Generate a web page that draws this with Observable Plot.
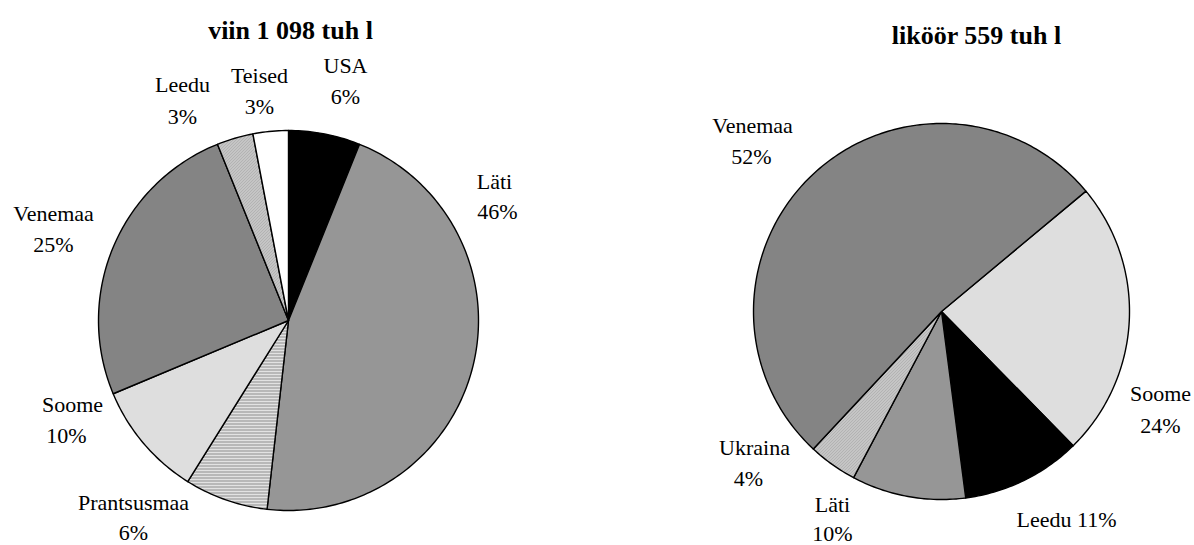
<!DOCTYPE html>
<html>
<head>
<meta charset="utf-8">
<script src="https://cdn.jsdelivr.net/npm/d3@7"></script>
<script src="https://cdn.jsdelivr.net/npm/@observablehq/plot@0.6"></script>
<style>
  html, body { margin: 0; padding: 0; background: white; }
  #chart svg text, #chart svg tspan { font-family: "Liberation Serif", "DejaVu Serif", "Noto Serif", serif !important; }
</style>
</head>
<body>
<div id="chart"></div>
<script>
// ---- data ----
const viinTitle = "viin 1 098 tuh l";
const viinCountries = ["USA", "Läti", "Prantsusmaa", "Soome", "Venemaa", "Leedu", "Teised"];
const viinShares = [6.1, 45.7, 7.1, 9.8, 25.2, 3.1, 3.0];
const viinLabels = ["6%", "46%", "6%", "10%", "25%", "3%", "3%"];

const likoorTitle = "liköör 559 tuh l";
const likoorCountries = ["Soome", "Leedu", "Läti", "Ukraina", "Venemaa"];
const likoorShares = [23.7, 10.3, 9.8, 4.2, 52.0];
const likoorLabels = ["24%", "11%", "10%", "4%", "52%"];

// ---- layout / style ----
const pieLeft = {cx: 288, cy: 320, r: 190, start: 0};
const pieRight = {cx: 941, cy: 311, r: 188, start: 50.2};
const viinFills = ["black", "#969696", "url(#pLines)", "url(#pDots)", "url(#pDark)", "url(#pDiag)", "white"];
const likoorFills = ["url(#pDotsFine)", "black", "#969696", "url(#pDiag)", "url(#pDark)"];
// [nameX, nameY, pctX, pctY] (pctX null => same line)
const viinLabelPos = [
  [345, 72, 345, 103],
  [494, 188, 497, 218],
  [133, 509, 133, 539],
  [72, 411, 66, 442],
  [53, 220, 53, 251],
  [182, 91, 182, 123],
  [259, 82, 259, 113]
];
const likoorLabelPos = [
  [1160, 400, 1160, 432],
  [1066, 526, null, null],
  [832, 511, 832, 540],
  [754, 454, 748, 485],
  [752, 132, 751, 163]
];
const titlePos = [[290, 38, 196], [976, 43, 202]];

function sliceMarks(shares, pie, fills) {
  const total = d3.sum(shares);
  let a = pie.start;
  const marks = [];
  shares.forEach((v, i) => {
    const a0 = a, a1 = a + v / total * 360;
    a = a1;
    const pts = [{x: pie.cx, y: pie.cy}];
    const n = Math.max(2, Math.ceil(a1 - a0));
    for (let k = 0; k <= n; k++) {
      const t = (a0 + (a1 - a0) * k / n) * Math.PI / 180;
      pts.push({x: pie.cx + pie.r * Math.sin(t), y: pie.cy - pie.r * Math.cos(t)});
    }
    pts.push({x: pie.cx, y: pie.cy});
    marks.push(Plot.line(pts, {x: "x", y: "y", fill: fills[i], stroke: "black", strokeWidth: 1.4, strokeLinejoin: "round"}));
  });
  return marks;
}

function labelRows(names, pcts, pos) {
  const rows = [];
  names.forEach((nm, i) => {
    const p = pos[i];
    if (p[2] == null) {
      rows.push({x: p[0], y: p[1], t: nm + " " + pcts[i]});
    } else {
      rows.push({x: p[0], y: p[1], t: nm});
      rows.push({x: p[2], y: p[3], t: pcts[i]});
    }
  });
  return rows;
}

const labels = [
  ...labelRows(viinCountries, viinLabels, viinLabelPos),
  ...labelRows(likoorCountries, likoorLabels, likoorLabelPos)
];
const titles = [
  {x: titlePos[0][0], y: titlePos[0][1], t: viinTitle, w: titlePos[0][2]},
  {x: titlePos[1][0], y: titlePos[1][1], t: likoorTitle, w: titlePos[1][2]}
];

const svg = Plot.plot({
  width: 1194,
  height: 545,
  margin: 0,
  x: {domain: [0, 1194], range: [0, 1194], axis: null},
  y: {domain: [0, 545], range: [0, 545], axis: null},
  style: {background: "white"},
  marks: [
    ...sliceMarks(viinShares, pieLeft, viinFills),
    ...sliceMarks(likoorShares, pieRight, likoorFills),
    Plot.text(labels, {x: "x", y: "y", text: "t", fontSize: 22, lineAnchor: "bottom", textAnchor: "middle", fill: "black"}),
    Plot.text(titles, {x: "x", y: "y", text: "t", fontSize: 26, fontWeight: "bold", lineAnchor: "bottom", textAnchor: "middle", fill: "black", ariaLabel: "title"})
  ]
});

// patterns
const ns = "http://www.w3.org/2000/svg";
const defs = document.createElementNS(ns, "defs");
defs.innerHTML = `
<pattern id="pDark" patternUnits="userSpaceOnUse" width="2" height="2">
  <rect width="2" height="2" fill="#858585" shape-rendering="crispEdges"/>
  <rect x="0" y="0" width="1" height="1" fill="#606060" shape-rendering="crispEdges"/>
  <rect x="1" y="1" width="1" height="1" fill="#a4a4a4" shape-rendering="crispEdges"/>
</pattern>
<pattern id="pLines" patternUnits="userSpaceOnUse" width="3" height="3">
  <rect width="3" height="3" fill="#e2e2e2" shape-rendering="crispEdges"/>
  <rect x="0" y="0" width="3" height="1" fill="#8e8e8e" shape-rendering="crispEdges"/>
</pattern>
<pattern id="pDots" patternUnits="userSpaceOnUse" width="2" height="2">
  <rect width="2" height="2" fill="#f4f4f4" shape-rendering="crispEdges"/>
  <rect x="0" y="0" width="1" height="1" fill="#9c9c9c" shape-rendering="crispEdges"/>
</pattern>
<pattern id="pDotsFine" patternUnits="userSpaceOnUse" width="2" height="2">
  <rect width="2" height="2" fill="#f6f6f6" shape-rendering="crispEdges"/>
  <rect x="0" y="0" width="1" height="1" fill="#b0b0b0" shape-rendering="crispEdges"/>
  <rect x="1" y="1" width="1" height="1" fill="#dcdcdc" shape-rendering="crispEdges"/>
</pattern>
<pattern id="pDiag" patternUnits="userSpaceOnUse" width="3" height="3">
  <rect width="3" height="3" fill="#d6d6d6" shape-rendering="crispEdges"/>
  <rect x="0" y="2" width="1" height="1" fill="#909090" shape-rendering="crispEdges"/>
  <rect x="1" y="1" width="1" height="1" fill="#909090" shape-rendering="crispEdges"/>
  <rect x="2" y="0" width="1" height="1" fill="#909090" shape-rendering="crispEdges"/>
</pattern>`;
svg.insertBefore(defs, svg.firstChild);

// stretch titles to the reference's wide letterforms
svg.querySelectorAll('g[aria-label="title"] text').forEach((el, i) => {
  el.setAttribute("textLength", titles[i].w);
  el.setAttribute("lengthAdjust", "spacingAndGlyphs");
});

document.getElementById("chart").appendChild(svg);
</script>
</body>
</html>
